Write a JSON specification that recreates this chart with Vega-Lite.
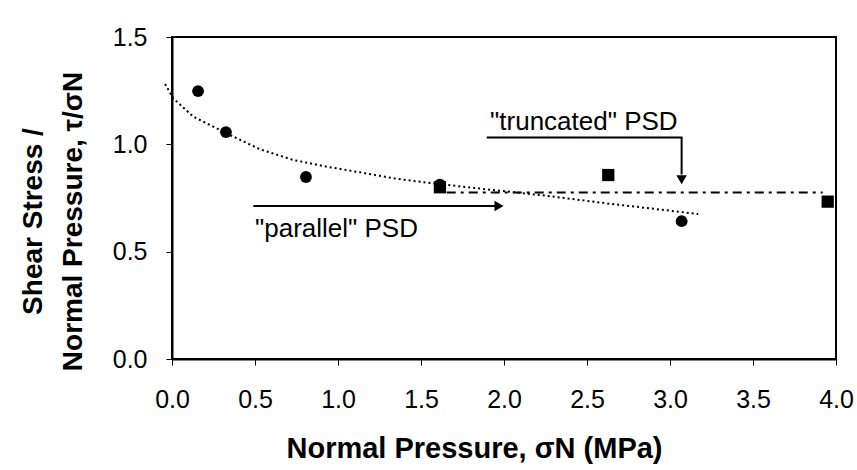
{
  "$schema": "https://vega.github.io/schema/vega-lite/v6.json",
  "autosize": {"type": "none"},
  "width": 664,
  "height": 322,
  "padding": {"left": 172, "top": 37, "right": 21, "bottom": 111},
  "background": "white",
  "config": {
    "view": {"stroke": "black", "strokeWidth": 2},
    "font": "Liberation Sans",
    "axis": {
      "grid": false,
      "domainColor": "black",
      "domainWidth": 2,
      "tickColor": "black",
      "tickSize": 6,
      "labelFont": "Liberation Sans",
      "labelFontSize": 25,
      "labelColor": "black",
      "titleFont": "Liberation Sans",
      "titleFontWeight": "bold",
      "titleColor": "black"
    }
  },
  "datasets": {
    "pts": [
      {"p": 0.157, "r": 1.248, "kind": "parallel"},
      {"p": 0.325, "r": 1.057, "kind": "parallel"},
      {"p": 0.807, "r": 0.848, "kind": "parallel"},
      {"p": 1.614, "r": 0.812, "kind": "parallel"},
      {"p": 3.07, "r": 0.642, "kind": "parallel"},
      {"p": 1.614, "r": 0.8, "kind": "truncated"},
      {"p": 2.628, "r": 0.857, "kind": "truncated"},
      {"p": 3.95, "r": 0.733, "kind": "truncated"}
    ],
    "trend": [
      {"p": -0.042, "r": 1.281},
      {"p": 0.008, "r": 1.214},
      {"p": 0.128, "r": 1.129},
      {"p": 0.329, "r": 1.051},
      {"p": 0.53, "r": 0.977},
      {"p": 0.731, "r": 0.927},
      {"p": 0.932, "r": 0.896},
      {"p": 1.113, "r": 0.872},
      {"p": 1.35, "r": 0.84},
      {"p": 1.574, "r": 0.818},
      {"p": 1.936, "r": 0.787},
      {"p": 2.217, "r": 0.764},
      {"p": 2.619, "r": 0.725},
      {"p": 2.9, "r": 0.7},
      {"p": 3.17, "r": 0.675}
    ],
    "flat": [
      {"p": 1.655, "r": 0.776},
      {"p": 3.92, "r": 0.776}
    ],
    "arrows": [
      {"seg": "a", "o": 1, "p": 0.49, "r": 0.713},
      {"seg": "a", "o": 2, "p": 1.95, "r": 0.713},
      {"seg": "b", "o": 1, "p": 1.896, "r": 1.032},
      {"seg": "b", "o": 2, "p": 3.07, "r": 1.032},
      {"seg": "b", "o": 3, "p": 3.07, "r": 0.86}
    ],
    "heads": [
      {"p": 1.97, "r": 0.713, "dir": "triangle-right"},
      {"p": 3.07, "r": 0.835, "dir": "triangle-down"}
    ],
    "notes": [
      {"p": 0.5, "r": 0.568, "t": "\"parallel\" PSD"},
      {"p": 1.916, "r": 1.067, "t": "\"truncated\" PSD"}
    ]
  },
  "layer": [
    {
      "data": {"name": "trend"},
      "mark": {"type": "line", "color": "black", "strokeWidth": 2, "strokeDash": [2, 3], "clip": false},
      "encoding": {
        "x": {
          "field": "p", "type": "quantitative",
          "scale": {"domain": [0, 4], "nice": false, "zero": false},
          "axis": {
            "values": [0, 0.5, 1, 1.5, 2, 2.5, 3, 3.5, 4],
            "format": ".1f",
            "labelPadding": 22,
            "title": "Normal Pressure, σN (MPa)",
            "titleFontSize": 29,
            "titleX": 302,
            "titleY": 98,
            "titleAlign": "center",
            "titleBaseline": "alphabetic",
            "labelFlush": false
          }
        },
        "y": {
          "field": "r", "type": "quantitative",
          "scale": {"domain": [0, 1.5], "nice": false},
          "axis": {
            "values": [0, 0.5, 1, 1.5],
            "format": ".1f",
            "labelPadding": 19,
            "title": ["Shear Stress /", "Normal Pressure,  τ/σN"],
            "titleFontSize": 28,
            "titleLineHeight": 40,
            "titleAngle": -90,
            "titleX": -139,
            "titleY": 184,
            "titleAlign": "center",
            "titleBaseline": "middle"
          }
        }
      }
    },
    {
      "data": {"name": "flat"},
      "mark": {"type": "line", "color": "black", "strokeWidth": 2, "strokeDash": [9, 5, 3, 5]},
      "encoding": {
        "x": {"field": "p", "type": "quantitative"},
        "y": {"field": "r", "type": "quantitative"}
      }
    },
    {
      "data": {"name": "arrows"},
      "mark": {"type": "line", "color": "black", "strokeWidth": 2},
      "encoding": {
        "x": {"field": "p", "type": "quantitative"},
        "y": {"field": "r", "type": "quantitative"},
        "detail": {"field": "seg"},
        "order": {"field": "o"}
      }
    },
    {
      "data": {"name": "heads"},
      "mark": {"type": "point", "filled": true, "color": "black", "opacity": 1, "size": 110},
      "encoding": {
        "x": {"field": "p", "type": "quantitative"},
        "y": {"field": "r", "type": "quantitative"},
        "shape": {"field": "dir", "type": "nominal", "scale": null, "legend": null}
      }
    },
    {
      "data": {"name": "pts"},
      "mark": {"type": "point", "filled": true, "color": "black", "opacity": 1, "clip": false},
      "encoding": {
        "x": {"field": "p", "type": "quantitative"},
        "y": {"field": "r", "type": "quantitative"},
        "shape": {"field": "kind", "type": "nominal", "scale": {"domain": ["parallel", "truncated"], "range": ["circle", "square"]}, "legend": null},
        "size": {"field": "kind", "type": "nominal", "scale": {"domain": ["parallel", "truncated"], "range": [140, 150]}, "legend": null}
      }
    },
    {
      "data": {"name": "notes"},
      "mark": {"type": "text", "align": "left", "baseline": "alphabetic", "fontSize": 26, "font": "Liberation Sans", "color": "black"},
      "encoding": {
        "x": {"field": "p", "type": "quantitative"},
        "y": {"field": "r", "type": "quantitative"},
        "text": {"field": "t"}
      }
    }
  ]
}
